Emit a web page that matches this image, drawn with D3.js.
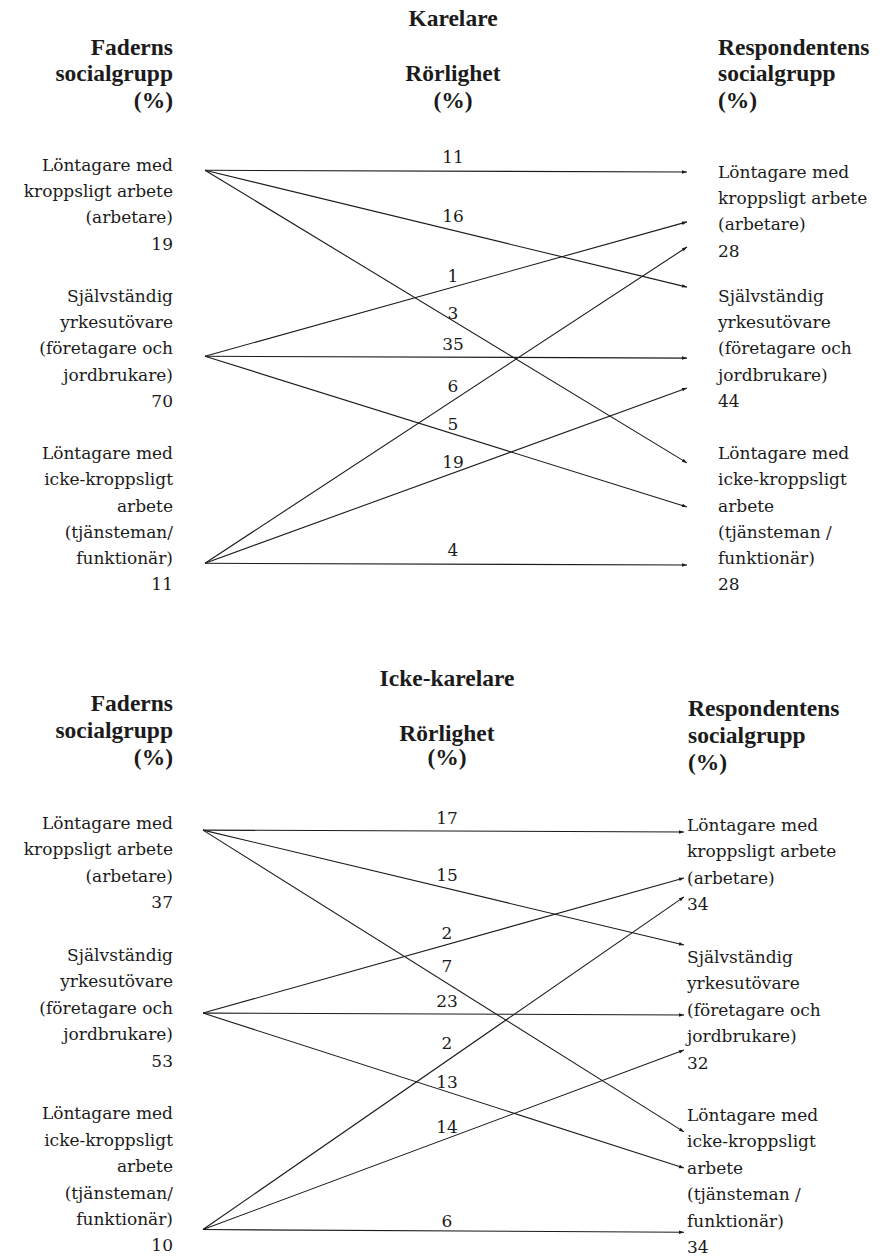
<!DOCTYPE html>
<html><head><meta charset="utf-8">
<script src="https://cdn.jsdelivr.net/npm/d3@7"></script>
<style>
body{margin:0;background:#fff}
text{fill:#1b1b1b}
.body{font-family:"DejaVu Serif",serif;font-size:17px}
.head{font-family:"Liberation Serif",serif;font-weight:bold;font-size:23.5px}
</style>
</head><body><svg id="c" width="892" height="1257"></svg>
<script>
// ---------- data ----------
const panelTitles = ["Karelare", "Icke-karelare"];
const leftHeader = ["Faderns", "socialgrupp", "(%)"];
const midHeader = ["Rörlighet", "(%)"];
const rightHeader = ["Respondentens", "socialgrupp", "(%)"];
const fatherGroups = [
  ["Löntagare med", "kroppsligt arbete", "(arbetare)"],
  ["Självständig", "yrkesutövare", "(företagare och", "jordbrukare)"],
  ["Löntagare med", "icke-kroppsligt", "arbete", "(tjänsteman/", "funktionär)"]
];
const respondentGroups = [
  ["Löntagare med", "kroppsligt arbete", "(arbetare)"],
  ["Självständig", "yrkesutövare", "(företagare och", "jordbrukare)"],
  ["Löntagare med", "icke-kroppsligt", "arbete", "(tjänsteman /", "funktionär)"]
];
// Karelare
const karelareFather = [19, 70, 11];
const karelareRespondent = [28, 44, 28];
const karelareFlows = [[11, 16, 3], [1, 35, 5], [6, 19, 4]]; // [father][respondent]
// Icke-karelare
const ickeFather = [37, 53, 10];
const ickeRespondent = [34, 32, 34];
const ickeFlows = [[17, 15, 7], [2, 23, 13], [2, 14, 6]];

// ---------- layout (in text-row units) ----------
const layouts = [
  {title: 18, lh: [47, 73, 100], mh: [73, 100], rh: [47, 73, 100], titleX: 453,
   row0: 165, rowH: 26.2, xText: 173, xRText: 718, x0: 205, x1: 687, midX: 453, rhX: 718,
   leftStart: [0, 5, 11], leftNode: [0.2, 7.3, 15.2], rightStart: [0.27, 5.0, 11.0],
   slots: [[0.27, 2.17, 3.13], [4.66, 7.37, 8.51], [11.37, 13.05, 15.27]],
   labelDy: [[14, 14, 8], [11, 13, 10], [14, 11, 14]]},
  {title: 678, lh: [703, 730, 757], mh: [733, 757], rh: [708, 735, 762], titleX: 447,
   row0: 823, rowH: 26.4, xText: 173, xRText: 687, x0: 203, x1: 684, midX: 447, rhX: 688,
   leftStart: [0, 5, 11], leftNode: [0.27, 7.2, 15.4], rightStart: [0.08, 5.08, 11.06],
   slots: [[0.34, 2.08, 2.8], [4.62, 7.27, 8.6], [11.7, 13.07, 15.5]],
   labelDy: [[13, 13, 17], [11, 13, 10], [18, 11, 10]]}
];
const panels = [
  {father: karelareFather, resp: karelareRespondent, flows: karelareFlows},
  {father: ickeFather, resp: ickeRespondent, flows: ickeFlows}
];

const svg = d3.select("#c");
svg.append("defs").append("marker")
  .attr("id", "arr").attr("viewBox", "0 0 10 10").attr("refX", 10).attr("refY", 5)
  .attr("markerWidth", 6).attr("markerHeight", 5).attr("markerUnits", "userSpaceOnUse")
  .attr("orient", "auto")
  .append("path").attr("d", "M0,1.5L10,5L0,8.5Z").attr("fill", "#1b1b1b");

panels.forEach((p, pi) => {
  const L = layouts[pi];
  const g = svg.append("g");
  const y = d3.scaleLinear().domain([0, 1]).range([L.row0, L.row0 + L.rowH]);
  const x = d3.scaleLinear().domain([0, 1]).range([L.x0, L.x1]);

  // headers
  g.append("text").attr("class", "head").attr("x", L.titleX).attr("y", L.title)
    .attr("dy", "0.35em").attr("text-anchor", "middle").text(panelTitles[pi]);
  leftHeader.forEach((t, i) => g.append("text").attr("class", "head").attr("x", L.xText)
    .attr("y", L.lh[i]).attr("dy", "0.35em").attr("text-anchor", "end").text(t));
  midHeader.forEach((t, i) => g.append("text").attr("class", "head").attr("x", L.midX)
    .attr("y", L.mh[i]).attr("dy", "0.35em").attr("text-anchor", "middle").text(t));
  rightHeader.forEach((t, i) => g.append("text").attr("class", "head").attr("x", L.rhX)
    .attr("y", L.rh[i]).attr("dy", "0.35em").attr("text-anchor", "start").text(t));

  // left labels
  fatherGroups.forEach((lines, gi) => {
    lines.concat([String(p.father[gi])]).forEach((t, li) => {
      g.append("text").attr("class", "body").attr("x", L.xText)
        .attr("y", y(L.leftStart[gi] + li)).attr("dy", "0.35em")
        .attr("text-anchor", "end").text(t);
    });
  });
  // right labels
  respondentGroups.forEach((lines, gi) => {
    lines.concat([String(p.resp[gi])]).forEach((t, li) => {
      g.append("text").attr("class", "body").attr("x", L.xRText)
        .attr("y", y(L.rightStart[gi] + li)).attr("dy", "0.35em")
        .attr("text-anchor", "start").text(t);
    });
  });

  // flows
  const flows = [];
  p.flows.forEach((row, fi) => row.forEach((v, ri) => {
    flows.push({fi, ri, v, y0: y(L.leftNode[fi]), y1: y(L.slots[ri][fi])});
  }));
  g.selectAll("line.flow").data(flows).join("line")
    .attr("x1", x(0)).attr("y1", d => d.y0)
    .attr("x2", x(1)).attr("y2", d => d.y1)
    .attr("stroke", "#1b1b1b").attr("stroke-width", 1.1)
    .attr("marker-end", "url(#arr)");
  const t = x.invert(L.midX);
  g.selectAll("text.val").data(flows).join("text")
    .attr("class", "body val")
    .attr("x", L.midX)
    .attr("y", d => d.y0 + (d.y1 - d.y0) * t - L.labelDy[d.fi][d.ri])
    .attr("dy", "0.35em").attr("text-anchor", "middle").text(d => d.v);
});
</script>
</body></html>
